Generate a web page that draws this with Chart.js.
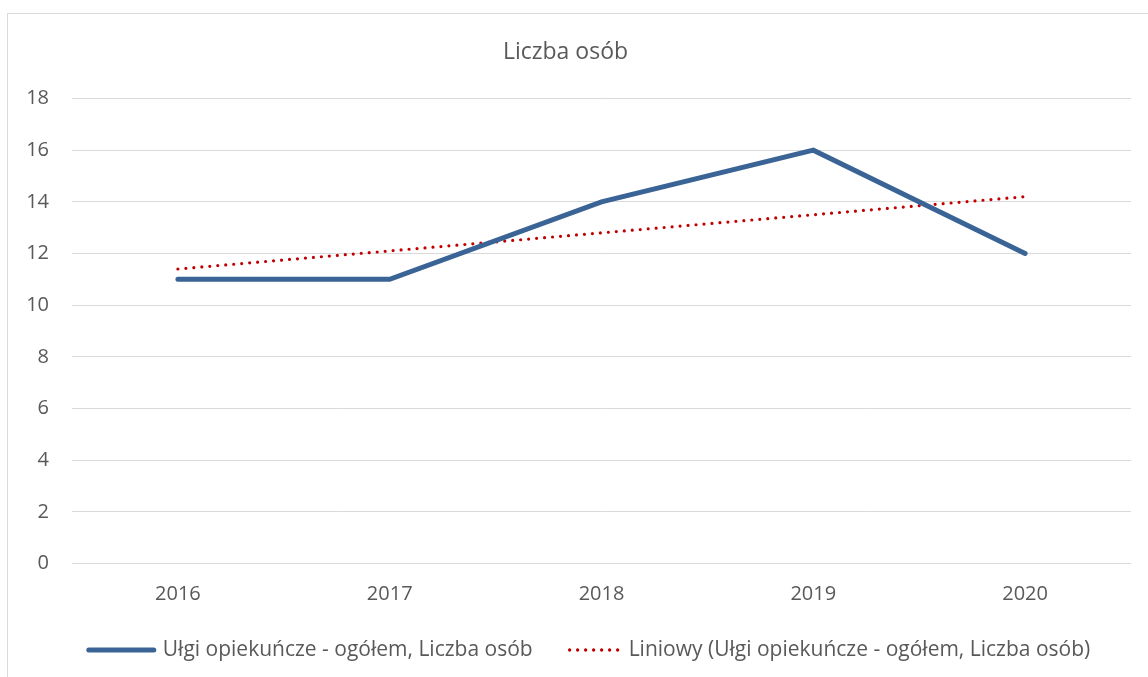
<!DOCTYPE html>
<html>
<head>
<meta charset="utf-8">
<script src="https://cdn.jsdelivr.net/npm/chart.js@4.4.1/dist/chart.umd.min.js"></script>
<style>
  html, body { margin: 0; padding: 0; background: #fff; overflow: hidden; }
  #wrap { position: relative; width: 1148px; height: 677px; }
  #frame { position: absolute; left: 7px; top: 13px; width: 1160px; height: 700px; border: 1px solid #d9d9d9; }
  #chart { position: absolute; left: 0; top: 0; }
</style>
</head>
<body>
<div id="wrap">
  <div id="frame"></div>
  <canvas id="chart" width="1148" height="677"></canvas>
</div>
<script>
// dane
const years = ['2016', '2017', '2018', '2019', '2020'];
const liczbaOsob = [11, 11, 14, 16, 12];
const trendLiniowy = [11.4, 12.1, 12.8, 13.5, 14.2];
const seriesName = 'Ułgi opiekuńcze - ogółem, Liczba osób';
const trendName = 'Liniowy (Ułgi opiekuńcze - ogółem, Liczba osób)';

const fontFamily = '"Open Sans", "Noto Sans", sans-serif';
const textColor = '#595959';

// legenda rysowana ręcznie (kropkowana linia trendu)
const bottomLegend = {
    id: 'bottomLegend',
    afterDraw(chart) {
        const c = chart.ctx;
        const y = 650;
        const items = chart.data.datasets.map(ds => ({
            text: ds.label,
            color: ds.borderColor,
            width: ds.borderWidth,
            dash: ds.borderDash || [],
            lineLen: ds.borderDash ? 54 : 71
        }));
        c.save();
        c.font = '21px ' + fontFamily;
        const gap = 6, itemGap = 36;
        let total = 0;
        items.forEach((it, i) => {
            it.tw = c.measureText(it.text).width;
            total += it.lineLen + gap + it.tw + (i ? itemGap : 0);
        });
        let x = 588 - total / 2;
        items.forEach((it, i) => {
            if (i) x += itemGap;
            c.beginPath();
            c.strokeStyle = it.color;
            c.lineWidth = it.dash.length ? 3.4 : it.width;
            c.lineCap = 'round';
            c.setLineDash(it.dash);
            c.moveTo(x + (it.dash.length ? 1 : 3), y);
            c.lineTo(x + it.lineLen - 3, y);
            c.stroke();
            c.setLineDash([]);
            x += it.lineLen + gap;
            c.fillStyle = textColor;
            c.textBaseline = 'middle';
            c.textAlign = 'left';
            c.fillText(it.text, x, y);
            x += it.tw;
        });
        c.restore();
    }
};

const ctx = document.getElementById('chart').getContext('2d');
new Chart(ctx, {
    type: 'line',
    data: {
        labels: years,
        datasets: [
            {
                label: seriesName,
                data: liczbaOsob,
                borderColor: '#3b6496',
                backgroundColor: '#3b6496',
                borderWidth: 5,
                borderCapStyle: 'round',
                borderJoinStyle: 'miter',
                pointRadius: 0,
                tension: 0,
                fill: false
            },
            {
                label: trendName,
                data: trendLiniowy,
                borderColor: '#c00000',
                backgroundColor: '#c00000',
                borderWidth: 3.2,
                borderDash: [0, 8],
                borderCapStyle: 'round',
                pointRadius: 0,
                tension: 0,
                fill: false
            }
        ]
    },
    plugins: [bottomLegend],
    options: {
        responsive: false,
        animation: false,
        layout: { padding: { left: 0, right: 17, top: 0, bottom: 53.5 } },
        plugins: {
            title: {
                display: true,
                text: 'Liczba osób',
                color: textColor,
                font: { family: fontFamily, size: 23, weight: 'normal' },
                padding: { top: 38.2, bottom: 32.7 }
            },
            legend: { display: false },
            tooltip: { enabled: false }
        },
        scales: {
            x: {
                offset: true,
                grid: { display: false, drawTicks: false },
                border: { display: false },
                ticks: {
                    color: textColor,
                    font: { family: fontFamily, size: 20 },
                    padding: 18.5
                },
                afterFit: function(scale) { scale.height = 60; }
            },
            y: {
                min: 0,
                max: 18,
                grid: { color: '#d9d9d9', lineWidth: 1, drawTicks: false },
                border: { display: false },
                ticks: {
                    stepSize: 2,
                    color: textColor,
                    font: { family: fontFamily, size: 20 },
                    padding: 23
                },
                afterFit: function(scale) { scale.width = 72; }
            }
        }
    }
});
</script>
</body>
</html>
